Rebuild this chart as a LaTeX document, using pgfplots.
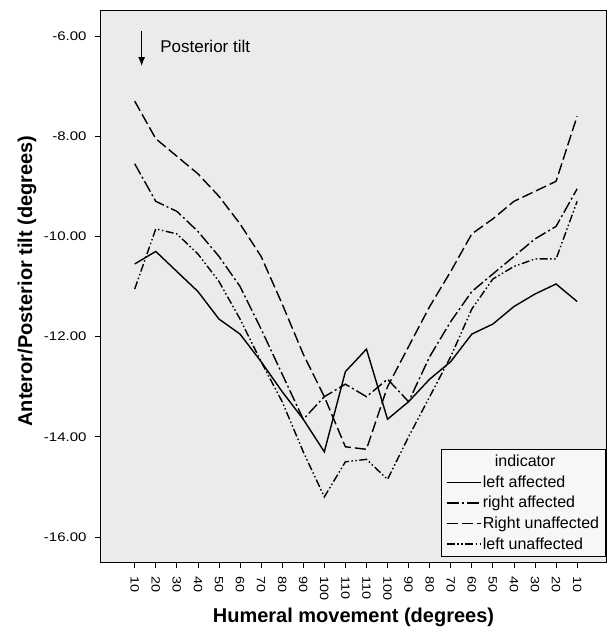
\documentclass[border=0pt]{standalone}
\usepackage{fontspec}
\setmainfont{Liberation Sans}
\newfontfamily\tickfont[FakeStretch=1.2]{Liberation Sans}
\usepackage{pgfplots}
\usepackage{pgfplotstable}
\pgfplotsset{compat=1.18}
\usetikzlibrary{arrows.meta,calc}

% i = position on the humeral movement axis (up 10..110, down 110..10)
% la = left affected, ra = right affected, ru = Right unaffected, lu = left unaffected
\pgfplotstableread{
i   la      ra      ru      lu
0   -10.55  -8.55   -7.30   -11.05
1   -10.30  -9.30   -8.05   -9.85
2   -10.70  -9.50   -8.40   -9.95
3   -11.10  -9.90   -8.75   -10.35
4   -11.65  -10.40  -9.20   -10.90
5   -11.95  -11.00  -9.75   -11.65
6   -12.50  -11.85  -10.40  -12.50
7   -13.10  -12.75  -11.35  -13.30
8   -13.65  -13.65  -12.35  -14.30
9   -14.30  -13.20  -13.20  -15.20
10  -12.70  -12.95  -14.20  -14.50
11  -12.25  -13.20  -14.25  -14.45
12  -13.65  -12.85  -13.00  -14.85
13  -13.30  -13.30  -12.20  -14.00
14  -12.85  -12.40  -11.40  -13.20
15  -12.50  -11.70  -10.70  -12.40
16  -11.95  -11.10  -9.95   -11.45
17  -11.75  -10.75  -9.65   -10.85
18  -11.40  -10.40  -9.30   -10.60
19  -11.15  -10.05  -9.10   -10.45
20  -10.95  -9.80   -8.90   -10.45
21  -11.30  -9.05   -7.60   -9.30
}\tilt

\begin{document}
\begin{tikzpicture}
\begin{axis}[
  scale only axis, width=505pt, height=551pt,
  xmin=-1.6, xmax=22.37, ymin=-16.5, ymax=-5.5,
  axis background/.style={fill=black!8},
  axis line style={line width=1pt},
  xtick={0,...,21},
  xticklabels={10,20,30,40,50,60,70,80,90,100,110,110,100,90,80,70,60,50,40,30,20,10},
  ytick={-16,-14,-12,-10,-8,-6},
  yticklabels={-16.00,-14.00,-12.00,-10.00,-8.00,-6.00},
  tick pos=left, tick align=outside, major tick length=6pt,
  every tick/.style={black, line width=0.8pt},
  xticklabel shift=5pt, yticklabel shift=5pt,
  xticklabel style={rotate=-90, anchor=west, font=\fontsize{12}{14}\tickfont},
  yticklabel style={font=\fontsize{12.5}{14}\tickfont},
  xlabel={Humeral movement (degrees)},
  ylabel={Anteror/Posterior tilt (degrees)},
  label style={font=\fontsize{20}{24}\selectfont\bfseries},
  xlabel style={at={(axis description cs:0.5,0)}, yshift=-55pt, anchor=center},
  ylabel style={at={(axis description cs:-0.1465,0.51)}, anchor=center},
  legend style={at={(rel axis cs:1,0.009)}, anchor=south east, draw=black,
    line width=0.8pt, fill=black!3, font=\fontsize{16}{18}\selectfont,
    row sep=3.5pt, inner xsep=5pt, inner ysep=4pt,
    nodes={inner xsep=1.5pt}},
  legend cell align=left,
  legend image code/.code={\draw[#1] (0pt,0pt) -- (34pt,0pt);},
]
\addlegendimage{empty legend}
\addlegendentry{\hspace{12pt}indicator}
\addplot[black, line width=1.4pt] table[x=i, y=la] {\tilt};
\addlegendentry{left affected}
\addplot[black, line width=1.4pt, dash pattern=on 12pt off 3pt on 2pt off 3pt] table[x=i, y=ra] {\tilt};
\addlegendentry{right affected}
\addplot[black, line width=1.4pt, dash pattern=on 11pt off 4pt] table[x=i, y=ru] {\tilt};
\addlegendentry{Right unaffected}
\addplot[black, line width=1.4pt, dash pattern=on 8pt off 2.5pt on 1.5pt off 2.5pt on 1.5pt off 2.5pt] table[x=i, y=lu] {\tilt};
\addlegendentry{left unaffected}

\draw[line width=1.3pt, -{Latex[length=9pt,width=7pt]}] (axis cs:0.33,-5.9) -- (axis cs:0.33,-6.6);
\node[anchor=west, font=\fontsize{17}{20}\selectfont] at (axis cs:1.05,-6.2) {Posterior tilt};
\end{axis}
\pgfresetboundingbox
\path[use as bounding box] ($(current axis.south west)+(-101pt,-73pt)$) rectangle ($(current axis.south west)+(507pt,562pt)$);
\end{tikzpicture}
\end{document}
